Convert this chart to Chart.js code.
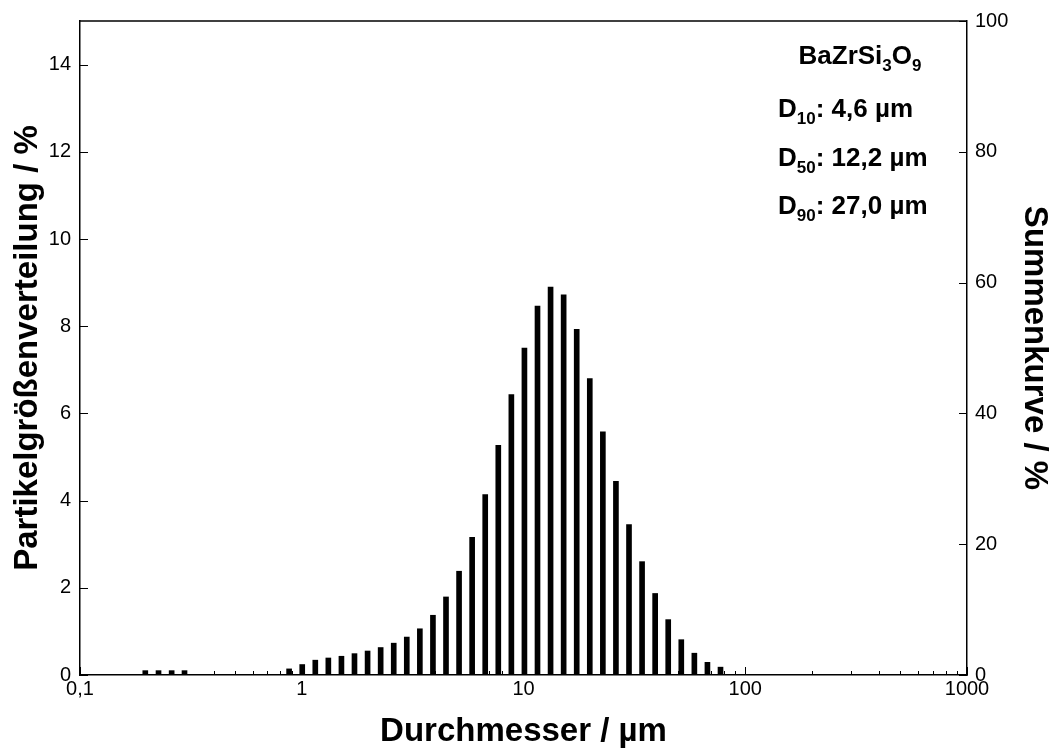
<!DOCTYPE html>
<html lang="de">
<head>
<meta charset="UTF-8">
<title>Partikelgrößenverteilung BaZrSi3O9</title>
<style>
  html, body { margin: 0; padding: 0; background: #fff; }
  #psd { display: block; }
</style>
</head>
<body>
<canvas id="psd" width="1052" height="751"></canvas>

<script src="https://cdn.jsdelivr.net/npm/chart.js"></script>
<script>
// Klassenmitten (µm) und Anteil je Klasse (%)
const durchmesser = [0.197, 0.226, 0.259, 0.296,
  0.877, 1.005, 1.151, 1.318, 1.51, 1.729, 1.981, 2.269, 2.599, 2.976,
  3.409, 3.905, 4.472, 5.122, 5.867, 6.72, 7.697, 8.816, 10.097, 11.565,
  13.246, 15.172, 17.377, 19.904, 22.797, 26.111, 29.907, 34.255, 39.234,
  44.938, 51.471, 58.953, 67.523, 77.339];
const anteil = [0.10, 0.10, 0.10, 0.10,
  0.14, 0.24, 0.34, 0.39, 0.43, 0.49, 0.55, 0.63, 0.73, 0.87,
  1.06, 1.37, 1.79, 2.38, 3.16, 4.14, 5.27, 6.43, 7.50, 8.46,
  8.90, 8.72, 7.93, 6.80, 5.58, 4.44, 3.45, 2.60, 1.87,
  1.27, 0.81, 0.50, 0.29, 0.18];

const xDekaden = [0.1, 1, 10, 100, 1000];
const yTicksLinks = [0, 2, 4, 6, 8, 10, 12, 14];
const yTicksRechts = [0, 20, 40, 60, 80, 100];

const probe = ['BaZrSi', '3', 'O', '9'];
const kennwerte = [
  ['10', '4,6 µm'],
  ['50', '12,2 µm'],
  ['90', '27,0 µm']
];

const FONT = '"Liberation Sans", Arial, Helvetica, sans-serif';
const tickFont = { family: FONT, size: 20 };
const titleFont = { family: FONT, size: 33, weight: 'bold', lineHeight: 1 };

// Striche nach innen + obere Rahmenlinie
const tickMarks = {
  id: 'tickMarks',
  afterDatasetsDraw(chart) {
    const { ctx, chartArea: a, scales } = chart;
    ctx.save();
    ctx.strokeStyle = '#000';
    ctx.lineWidth = 1;
    ctx.beginPath();
    yTicksLinks.forEach(v => {
      const y = Math.round(scales.y.getPixelForValue(v)) + 0.5;
      ctx.moveTo(a.left, y); ctx.lineTo(a.left + 8, y);
    });
    yTicksRechts.forEach(v => {
      const y = Math.round(scales.y2.getPixelForValue(v)) + 0.5;
      ctx.moveTo(a.right, y); ctx.lineTo(a.right - 8, y);
    });
    xDekaden.forEach((d, i) => {
      const x = Math.round(scales.x.getPixelForValue(d)) + 0.5;
      ctx.moveTo(x, a.bottom); ctx.lineTo(x, a.bottom - 8);
      if (i < xDekaden.length - 1) {
        for (let m = 2; m <= 9; m++) {
          const xm = Math.round(scales.x.getPixelForValue(d * m)) + 0.5;
          ctx.moveTo(xm, a.bottom); ctx.lineTo(xm, a.bottom - 4);
        }
      }
    });
    ctx.stroke();
    ctx.lineWidth = 1.5;
    ctx.beginPath();
    ctx.moveTo(a.left, a.top); ctx.lineTo(a.right, a.top);
    ctx.stroke();
    ctx.restore();
  }
};

// Text mit tiefgestellten Teilen
function subText(ctx, parts, x, y) {
  parts.forEach((p, i) => {
    const sub = i % 2 === 1;
    ctx.font = 'bold ' + (sub ? 17 : 26) + 'px ' + FONT;
    ctx.fillText(p, x, y + (sub ? 7 : 0));
    x += ctx.measureText(p).width;
  });
  return x;
}
function subWidth(ctx, parts) {
  let w = 0;
  parts.forEach((p, i) => {
    ctx.font = 'bold ' + (i % 2 === 1 ? 17 : 26) + 'px ' + FONT;
    w += ctx.measureText(p).width;
  });
  return w;
}

const annotation = {
  id: 'annotation',
  afterDraw(chart) {
    const ctx = chart.ctx;
    ctx.save();
    ctx.fillStyle = '#000';
    ctx.textBaseline = 'alphabetic';
    ctx.textAlign = 'left';
    const w = subWidth(ctx, probe);
    subText(ctx, probe, 860 - w / 2, 64);
    kennwerte.forEach((k, i) => {
      subText(ctx, ['D', k[0], ': ' + k[1]], 778, 117 + i * 48.5);
    });
    ctx.restore();
  }
};

new Chart(document.getElementById('psd'), {
  type: 'bar',
  data: {
    datasets: [{
      data: durchmesser.map((d, i) => ({ x: d, y: anteil[i] })),
      backgroundColor: '#000',
      borderWidth: 0,
      barThickness: 5,
      yAxisID: 'y'
    }]
  },
  options: {
    responsive: false,
    animation: false,
    devicePixelRatio: 1,
    layout: { padding: { top: 17, left: 0, right: 0, bottom: 0 } },
    plugins: {
      legend: { display: false },
      tooltip: { enabled: false }
    },
    scales: {
      x: {
        type: 'logarithmic',
        position: 'bottom',
        min: 0.1,
        max: 1000,
        offset: false,
        grid: { display: false, drawTicks: false, offset: false },
        border: { color: '#000', width: 1.5 },
        afterBuildTicks: s => { s.ticks = xDekaden.map(v => ({ value: v })); },
        afterFit: s => { s.height = 76; },
        ticks: {
          autoSkip: false,
          maxRotation: 0,
          padding: 2,
          color: '#000',
          font: tickFont,
          callback: v => String(v).replace('.', ',')
        },
        title: {
          display: true,
          text: 'Durchmesser / µm',
          color: '#000',
          font: titleFont,
          padding: { top: 0, bottom: 3 }
        }
      },
      y: {
        position: 'left',
        min: 0,
        max: 15,
        grid: { drawOnChartArea: false, drawTicks: false },
        border: { color: '#000', width: 1.5 },
        afterBuildTicks: s => { s.ticks = yTicksLinks.map(v => ({ value: v })); },
        afterFit: s => { s.width = 80; },
        ticks: { padding: 9, color: '#000', font: tickFont },
        title: {
          display: true,
          text: 'Partikelgrößenverteilung / %',
          color: '#000',
          font: titleFont,
          padding: { top: 11, bottom: 0 }
        }
      },
      y2: {
        position: 'right',
        min: 0,
        max: 100,
        grid: { drawOnChartArea: false, drawTicks: false },
        border: { color: '#000', width: 1.5 },
        afterBuildTicks: s => { s.ticks = yTicksRechts.map(v => ({ value: v })); },
        afterFit: s => { s.width = 85; },
        ticks: { padding: 8, color: '#000', font: tickFont },
        title: {
          display: true,
          text: 'Summenkurve / %',
          color: '#000',
          font: titleFont,
          padding: { top: 1, bottom: 0 }
        }
      }
    }
  },
  plugins: [tickMarks, annotation]
});
</script>
</body>
</html>
